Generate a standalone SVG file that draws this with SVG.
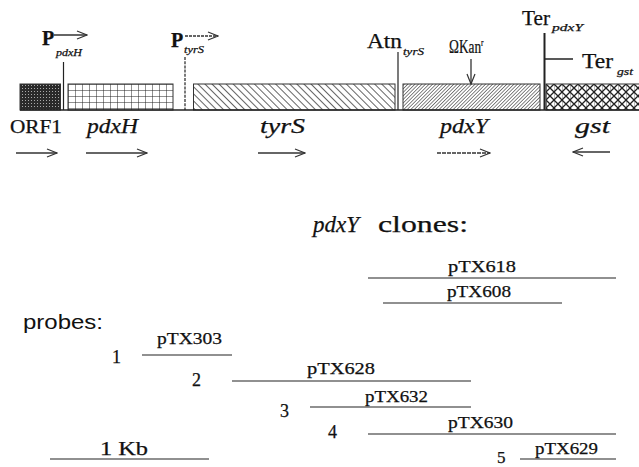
<svg xmlns="http://www.w3.org/2000/svg" width="639" height="467" viewBox="0 0 639 467">
  <defs>
    <style>
      .serif { font-family: "Liberation Serif", "Times New Roman", "DejaVu Serif", serif; fill: #111; stroke: #111; stroke-width: 0.25; }
      .sans { font-family: "Liberation Sans", Arial, sans-serif; fill: #111; }
      .it { font-style: italic; }
      .bd { font-weight: bold; }
      .box { stroke: #333; stroke-width: 1; }
      .ln { stroke: #222; stroke-width: 1.2; fill: none; }
      .arr { stroke: #333; stroke-width: 1.3; fill: none; marker-end: url(#openHead); }
      .clone { stroke: #222; stroke-width: 1.2; }
    </style>
    <marker id="openHead" viewBox="0 0 12 10" refX="11" refY="5" markerWidth="12" markerHeight="10" markerUnits="userSpaceOnUse" orient="auto">
      <polyline points="1,1 11,5 1,9" fill="none" stroke="#333" stroke-width="1.2"/>
    </marker>
    <!-- ORF1: dark stipple -->
    <pattern id="stipple" width="3" height="3" patternUnits="userSpaceOnUse">
      <rect width="3" height="3" fill="#2a2a2a"/>
      <rect x="1" y="1" width="1" height="1" fill="#aaa"/>
    </pattern>
    <!-- pdxH: fine grid -->
    <pattern id="grid" width="7" height="6" patternUnits="userSpaceOnUse" x="68" y="84">
      <rect width="7" height="6" fill="#fff"/>
      <path d="M0,0V6M0,0H7" stroke="#222" stroke-width="1"/>
    </pattern>
    <!-- tyrS: wide back-slash hatch -->
    <pattern id="hatchBack" width="5" height="5" patternUnits="userSpaceOnUse" patternTransform="rotate(-45)">
      <rect width="5" height="5" fill="#fff"/>
      <line x1="0" y1="0" x2="0" y2="5" stroke="#222" stroke-width="1.4"/>
    </pattern>
    <!-- pdxY: dense forward-slash hatch -->
    <pattern id="hatchFwd" width="2.5" height="4" patternUnits="userSpaceOnUse" patternTransform="rotate(45)">
      <rect width="2.5" height="4" fill="#fff"/>
      <line x1="0" y1="0" x2="0" y2="4" stroke="#222" stroke-width="1.1"/>
    </pattern>
    <!-- gst: cross hatch -->
    <pattern id="cross" width="8" height="8" patternUnits="userSpaceOnUse" x="546" y="84">
      <rect width="8" height="8" fill="#fff"/>
      <path d="M0,0L8,8M8,0L0,8" stroke="#222" stroke-width="1.3"/>
      <path d="M0,0V8" stroke="#222" stroke-width="0.6"/>
    </pattern>
  </defs>

  <rect width="639" height="467" fill="#fff"/>

  <!-- gene boxes -->
  <g id="orf1">
    <rect class="box" x="20" y="84" width="40.5" height="26" fill="url(#stipple)"/>
  </g>
  <g id="pdxH">
    <rect class="box" x="68" y="84" width="105" height="26" fill="url(#grid)"/>
  </g>
  <g id="tyrS">
    <rect class="box" x="193.5" y="84" width="201.5" height="26" fill="url(#hatchBack)"/>
  </g>
  <g id="pdxY">
    <rect class="box" x="403" y="84" width="137" height="26" fill="url(#hatchFwd)"/>
  </g>
  <g id="gst">
    <rect class="box" x="546" y="84" width="95" height="26" fill="url(#cross)"/>
  </g>

  <!-- chromosome baseline -->
  <line x1="20" y1="110" x2="639" y2="110" stroke="#222" stroke-width="1.5"/>

  <!-- promoters, attenuator, terminators, insertion -->
  <g id="P-pdxH">
    <line class="ln" x1="63.5" y1="62" x2="63.5" y2="110"/>
    <text class="serif bd" x="42" y="45" font-size="20">P</text>
    <text class="serif it" x="56" y="56" font-size="10" textLength="26" lengthAdjust="spacingAndGlyphs">pdxH</text>
    <line class="arr" x1="54" y1="35" x2="87" y2="35"/>
  </g>
  <g id="P-tyrS">
    <line class="ln" x1="185" y1="57" x2="185" y2="110" stroke-dasharray="3 1.2"/>
    <text class="serif bd" x="171" y="47" font-size="20">P</text>
    <text class="serif it" x="184" y="53" font-size="10" textLength="20" lengthAdjust="spacingAndGlyphs">tyrS</text>
    <line class="arr" x1="185" y1="36" x2="218" y2="36" stroke-dasharray="3 1"/>
  </g>
  <g id="Atn-tyrS">
    <line class="ln" x1="398" y1="52" x2="398" y2="110"/>
    <text class="serif" x="367" y="48" font-size="20" textLength="35" lengthAdjust="spacingAndGlyphs">Atn</text>
    <text class="serif it" x="403" y="55" font-size="10" textLength="21" lengthAdjust="spacingAndGlyphs">tyrS</text>
  </g>
  <g id="Kan-insert">
    <text class="serif" font-size="18" transform="translate(449,53) scale(0.74,1)">ΩKan<tspan font-size="10" dy="-7">r</tspan></text>
    <line class="arr" x1="471" y1="59" x2="471" y2="84" stroke-width="1"/>
  </g>
  <g id="Ter-pdxY">
    <line x1="544.5" y1="33" x2="544.5" y2="110" stroke="#222" stroke-width="2"/>
    <text class="serif" x="522" y="25" font-size="20" textLength="28" lengthAdjust="spacingAndGlyphs">Ter</text>
    <text class="serif it" x="552" y="31" font-size="11" textLength="31" lengthAdjust="spacingAndGlyphs">pdxY</text>
  </g>
  <g id="Ter-gst">
    <line x1="544" y1="59" x2="573" y2="59" stroke="#222" stroke-width="1.5"/>
    <text class="serif" x="582" y="68" font-size="20" textLength="31" lengthAdjust="spacingAndGlyphs">Ter</text>
    <text class="serif it" x="617" y="75" font-size="11" textLength="16" lengthAdjust="spacingAndGlyphs">gst</text>
  </g>

  <!-- gene names and transcription directions -->
  <g id="gene-labels">
    <text class="serif" x="10" y="133" font-size="18" textLength="52" lengthAdjust="spacingAndGlyphs">ORF1</text>
    <text class="serif it" x="87" y="133" font-size="20" textLength="51" lengthAdjust="spacingAndGlyphs">pdxH</text>
    <text class="serif it" x="260" y="133" font-size="21" textLength="45" lengthAdjust="spacingAndGlyphs">tyrS</text>
    <text class="serif it" x="440" y="133" font-size="21" textLength="48" lengthAdjust="spacingAndGlyphs">pdxY</text>
    <text class="serif it" x="575" y="133" font-size="21" textLength="35" lengthAdjust="spacingAndGlyphs">gst</text>
  </g>
  <g id="direction-arrows">
    <line class="arr" x1="16" y1="153" x2="57" y2="153" stroke-width="1"/>
    <line class="arr" x1="86" y1="153" x2="147" y2="153" stroke-width="1.5"/>
    <line class="arr" x1="258" y1="153" x2="305" y2="153" stroke-width="1.5"/>
    <line class="arr" x1="437" y1="153" x2="490" y2="153" stroke-width="1" stroke-dasharray="4 1"/>
    <line class="arr" x1="610" y1="152" x2="573" y2="152" stroke-width="1.2"/>
  </g>

  <!-- clones -->
  <g id="clones">
    <text class="serif it" x="313" y="232" font-size="23" textLength="46" lengthAdjust="spacingAndGlyphs">pdxY</text>
    <text class="serif" x="378" y="232" font-size="23" textLength="90" lengthAdjust="spacingAndGlyphs">clones:</text>
    <text class="serif" x="448" y="272" font-size="17" textLength="68" lengthAdjust="spacingAndGlyphs">pTX618</text>
    <text class="serif" x="447" y="297" font-size="17" textLength="64" lengthAdjust="spacingAndGlyphs">pTX608</text>
  </g>

  <!-- probes -->
  <g id="probes">
    <text class="sans" x="23" y="329" font-size="21" textLength="80" lengthAdjust="spacingAndGlyphs">probes:</text>
    <text class="serif" x="112" y="363" font-size="18">1</text>
    <text class="serif" x="157" y="344" font-size="17" textLength="65" lengthAdjust="spacingAndGlyphs">pTX303</text>
    <text class="serif" x="192" y="386" font-size="18">2</text>
    <text class="serif" x="307" y="374" font-size="17" textLength="68" lengthAdjust="spacingAndGlyphs">pTX628</text>
    <text class="serif" x="280" y="417" font-size="18">3</text>
    <text class="serif" x="365" y="402" font-size="17" textLength="63" lengthAdjust="spacingAndGlyphs">pTX632</text>
    <text class="serif" x="328" y="438" font-size="18">4</text>
    <text class="serif" x="448" y="428" font-size="17" textLength="65" lengthAdjust="spacingAndGlyphs">pTX630</text>
    <text class="serif" x="497" y="463" font-size="17">5</text>
    <text class="serif" x="535" y="454" font-size="17" textLength="63" lengthAdjust="spacingAndGlyphs">pTX629</text>
  </g>

  <!-- scale bar -->
  <g id="scale">
    <text class="serif" x="100" y="455" font-size="18" textLength="48" lengthAdjust="spacingAndGlyphs">1 Kb</text>
    <line class="clone" x1="50" y1="459" x2="209" y2="459"/>
  </g>

  <!-- clone and probe extents -->
  <g id="connectors">
    <line class="clone" x1="368" y1="278" x2="616" y2="278"/>
    <line class="clone" x1="383" y1="303" x2="562" y2="303"/>
    <line class="clone" x1="142" y1="355" x2="232" y2="355"/>
    <line class="clone" x1="232" y1="381" x2="471" y2="381"/>
    <line class="clone" x1="310" y1="407" x2="471" y2="407"/>
    <line class="clone" x1="368" y1="434" x2="616" y2="434"/>
    <line class="clone" x1="520" y1="459" x2="616" y2="459"/>
  </g>
</svg>
